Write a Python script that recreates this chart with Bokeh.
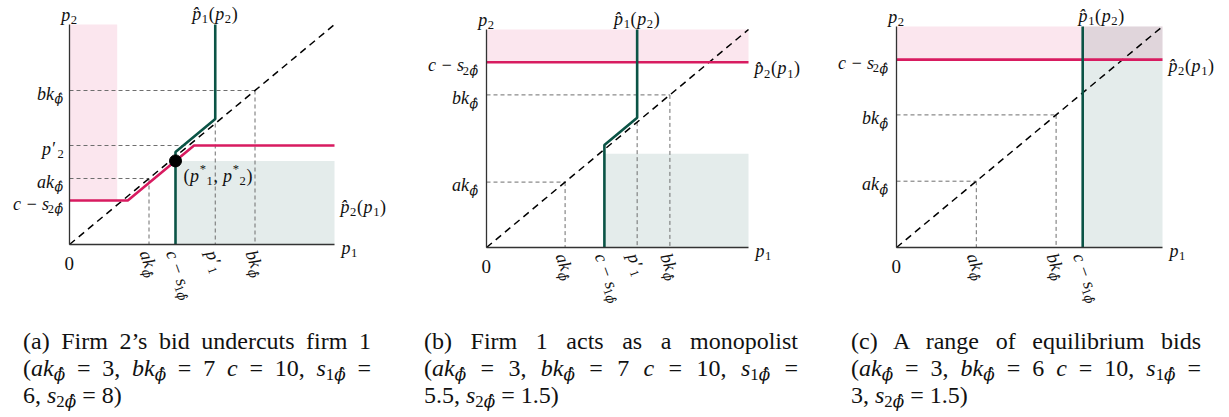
import math
from bokeh.plotting import figure
from bokeh.models import Range1d, Label, Div, FixedTicker
from bokeh.layouts import row, column
from bokeh.embed import file_html
from bokeh.resources import INLINE

# ---------------- data ----------------
PANEL_IDS = ["a", "b", "c"]
TITLES = ["Firm 2\u2019s bid undercuts firm 1",
          "Firm 1 acts as a monopolist",
          "A range of equilibrium bids"]
AK = [3, 3, 3]
BK = [7, 7, 6]
C = [10, 10, 10]
S1 = [6, 5.5, 3]
S2 = [8, 1.5, 1.5]
AXIS_MAX = 10

# best responses p1_hat(p2) (green) and p2_hat(p1) (pink)
BR1_X = [[4, 4, 5.5, 5.5], [4.5, 4.5, 5.75, 5.75], [7, 7]]
BR1_Y = [[0, 4.2, 5.7, 10], [0, 4.7, 5.95, 10], [0, 10]]
BR2_X = [[0, 2.2, 4.7, 10], [0, 10], [0, 10]]
BR2_Y = [[2, 2, 4.5, 4.5], [8.5, 8.5], [8.5, 8.5]]
P1_PRIME = [5.5, 5.75, None]
P2_PRIME = [4.5, None, None]
EQ_P1 = [4.0]
EQ_P2 = [3.8]
# shaded regions: left, right, bottom, top
PINK_L = [0, 0, 0]
PINK_R = [1.8, 10, 10]
PINK_B = [2, 8.5, 8.5]
PINK_T = [10, 10, 10]
GRAY_L = [4, 4.5, 7]
GRAY_R = [10, 10, 10]
GRAY_B = [0, 0, 0]
GRAY_T = [3.8, 4.3, 10]

# ---------------- styles / layout ----------------
PINK = "#d81b60"
GREEN = "#0b5446"
GUIDE = "#6e6e6e"
FONT = "Liberation Serif"
GFONT = "DejaVu Serif"
LBL = 18
ROT = math.radians(-70)
PHIHAT = "\u03d5\u0302"
PHAT = "p\u0302"
FIG_H = 323

PX = [dict(fx=0, fw=420, ox=69, ux=26.5, oy=244, uy=22.0, gap=5, p1dx=0),
      dict(fx=420, fw=400, ox=486, ux=26.2, oy=247, uy=21.8, gap=7, p1dx=0),
      dict(fx=820, fw=401, ox=896, ux=26.6, oy=247, uy=22.1, gap=7, p1dx=19)]
CAPTION_BOX = [dict(ml=23, w=348), dict(ml=53, w=374), dict(ml=53, w=350)]

W_IT = {"a": .5, "b": .5, "c": .444, "k": .444, "p": .5, "s": .389, "\u03d5": .74}
W_RM = {"(": .333, ")": .333, ",": .25, " ": .25, "\u2212": .564, "=": .564,
        "*": .5, "\u2032": .33}


def text_width(t, size, italic):
    w = 0.0
    for ch in t:
        if ch == "\u0302":
            continue
        if ch.isdigit():
            w += .5
        elif italic and ch in W_IT:
            w += W_IT[ch]
        else:
            w += W_RM.get(ch, W_IT.get(ch, .5))
    return w * size + 0.6


def I(t, font=FONT):
    return (t, "n", True, font)


def R(t):
    return (t, "n", False, FONT)


def SB(t, it=False, font=FONT):
    return (t, "b", it, font)


def SP(t):
    return (t, "p", False, FONT)


def rich(p, x, y, pieces, align="left", angle=0.0, dx=0.0, dy=0.0, size=LBL, shift=0.0):
    ca, sa = math.cos(angle), math.sin(angle)
    ux, uy = -sa, ca
    items = []
    total = 0.0
    for txt, kind, it, font in pieces:
        fs = size if kind == "n" else size * 0.7
        items.append((txt, kind, it, font, fs, total))
        total += text_width(txt, fs, it)
    start = {"left": 0.0, "center": -total / 2.0, "right": -total}[align]
    for txt, kind, it, font, fs, pos in items:
        s = shift + {"n": 0.0, "b": -0.3 * size, "p": 0.38 * size}[kind]
        a = start + pos
        p.add_layout(Label(x=x, y=y, x_offset=dx + a * ca + s * ux,
                           y_offset=dy + a * sa + s * uy, text=txt, angle=angle,
                           text_align="left", text_baseline="alphabetic",
                           text_font=font, text_font_size=f"{fs:.1f}px",
                           text_font_style="italic" if it else "normal",
                           text_color="#111111"))


SUBPHI = SB(PHIHAT, True, GFONT)
LAB_AK = [I("ak"), SUBPHI]
LAB_BK = [I("bk"), SUBPHI]


def lab_cs(n):
    return [I("c \u2212 s"), SB(str(n)), SUBPHI]


def lab_prime(n):
    return [I("p\u2032"), SB(str(n))]


def fmt(v):
    return f"{v:g}"


def make_panel(i):
    g = PX[i]
    xr = Range1d((g["fx"] - g["ox"]) / g["ux"], (g["fx"] + g["fw"] - g["ox"]) / g["ux"])
    yr = Range1d(-(FIG_H - g["oy"]) / g["uy"], g["oy"] / g["uy"])
    p = figure(width=g["fw"], height=FIG_H, x_range=xr, y_range=yr,
               min_border=0, toolbar_location=None, output_backend="svg", title=None,
               background_fill_color="white", border_fill_color="white")
    p.xgrid.visible = False
    p.ygrid.visible = False
    p.outline_line_color = None
    for ax in (p.xaxis[0], p.yaxis[0]):
        ax.ticker = FixedTicker(ticks=[])
        ax.major_tick_line_color = None
        ax.minor_tick_line_color = None
        ax.major_label_text_font_size = "0px"
        ax.major_label_standoff = 0
        ax.major_tick_out = 0
        ax.axis_line_color = "#333333"
        ax.axis_line_width = 1.3
        ax.fixed_location = 0
        ax.bounds = (0, AXIS_MAX)

    ak, bk = AK[i], BK[i]
    cs1, cs2 = C[i] - S1[i], C[i] - S2[i]

    # shaded regions
    p.quad(left=[PINK_L[i]], right=[PINK_R[i]], bottom=[PINK_B[i]], top=[PINK_T[i]],
           fill_color=PINK, fill_alpha=0.11, line_color=None)
    p.quad(left=[GRAY_L[i]], right=[GRAY_R[i]], bottom=[GRAY_B[i]], top=[GRAY_T[i]],
           fill_color=GREEN, fill_alpha=0.11, line_color=None)

    # guide lines
    gx0, gy0, gx1, gy1 = [], [], [], []
    for v in (ak, bk):
        gx0 += [0, v]; gy0 += [v, v]; gx1 += [v, v]; gy1 += [v, 0]
    if P1_PRIME[i] is not None:
        v = P1_PRIME[i]
        gx0.append(v); gy0.append(v); gx1.append(v); gy1.append(0)
    if P2_PRIME[i] is not None:
        v = P2_PRIME[i]
        gx0.append(0); gy0.append(v); gx1.append(v); gy1.append(v)
    p.segment(x0=gx0, y0=gy0, x1=gx1, y1=gy1, line_color=GUIDE, line_width=1,
              line_dash="4 3")

    # 45-degree line
    p.line(x=[0, AXIS_MAX], y=[0, AXIS_MAX], line_color="black", line_width=1.5,
           line_dash="7 5")

    # best responses
    p.line(x=BR2_X[i], y=BR2_Y[i], line_color=PINK, line_width=2.6)
    p.line(x=BR1_X[i], y=BR1_Y[i], line_color=GREEN, line_width=2.6)

    if i == 0:
        p.scatter(x=EQ_P1, y=EQ_P2, size=12, color="black")
        rich(p, EQ_P1[0], EQ_P2[0],
             [R("("), I("p"), SP("*"), SB("1"), R(", "), I("p"), SP("*"), SB("2"), R(")")],
             "left", dx=8, dy=-15)

    # y-axis labels
    ylabs = [(bk, LAB_BK), (ak, LAB_AK), (cs2, lab_cs(2))]
    if P2_PRIME[i] is not None:
        ylabs.append((P2_PRIME[i], lab_prime(2)))
    for v, pcs in ylabs:
        rich(p, 0, v, pcs, "right", dx=-g["gap"], dy=-3)

    # x-axis labels (rotated)
    xlabs = [(ak, LAB_AK), (bk, LAB_BK), (cs1, lab_cs(1))]
    if P1_PRIME[i] is not None:
        xlabs.append((P1_PRIME[i], lab_prime(1)))
    for v, pcs in xlabs:
        rich(p, v, 0, pcs, "left", angle=ROT, dx=0, dy=-5, shift=-0.25 * LBL)

    # origin, axis names, curve names
    rich(p, 0, 0, [R("0")], "center", dy=-19, size=19)
    rich(p, 0, AXIS_MAX, [I("p"), SB("2")], "center", dy=10)
    rich(p, AXIS_MAX, 0, [I("p"), SB("1")], "left", dx=7, dy=-3)
    rich(p, BR1_X[i][-1], AXIS_MAX,
         [I(PHAT), SB("1"), R("("), I("p"), SB("2"), R(")")],
         "center", dx=g["p1dx"], dy=11)
    rich(p, AXIS_MAX, cs2,
         [I(PHAT), SB("2"), R("("), I("p"), SB("1"), R(")")],
         "left", dx=6, dy=-6)
    return p


def sub(s):
    return ("<span style='font-size:70%;position:relative;top:0.24em;"
            "line-height:0'>" + s + "</span>")


def make_caption(i):
    box = CAPTION_BOX[i]
    phi = f"<i style=\"font-family:'{GFONT}',serif\">{PHIHAT}</i>"
    l1 = f"({PANEL_IDS[i]}) {TITLES[i]}"
    l2 = (f"(<i>ak</i>{sub(phi)} = {fmt(AK[i])}, <i>bk</i>{sub(phi)} = {fmt(BK[i])} "
          f"<i>c</i> = {fmt(C[i])}, <i>s</i>{sub('1' + phi)} =")
    l3 = f"{fmt(S1[i])}, <i>s</i>{sub('2' + phi)} = {fmt(S2[i])})"
    just = "text-align:justify;text-align-last:justify;white-space:nowrap;"
    html = (f"<div style=\"font-family:'{FONT}','{GFONT}',serif;font-size:24px;"
            f"line-height:27px;color:#111;width:{box['w']}px\">"
            f"<div style='{just}'>{l1}</div>"
            f"<div style='{just}'>{l2}</div>"
            f"<div style='text-align:left'>{l3}</div></div>")
    return Div(text=html, width=box["w"], height=82, margin=(5, 0, 0, box["ml"]))


figs = [make_panel(i) for i in range(3)]
caps = [make_caption(i) for i in range(3)]
layout = column(row(*figs), row(*caps))

with open("out.html", "w") as f:
    f.write(file_html(layout, INLINE))
